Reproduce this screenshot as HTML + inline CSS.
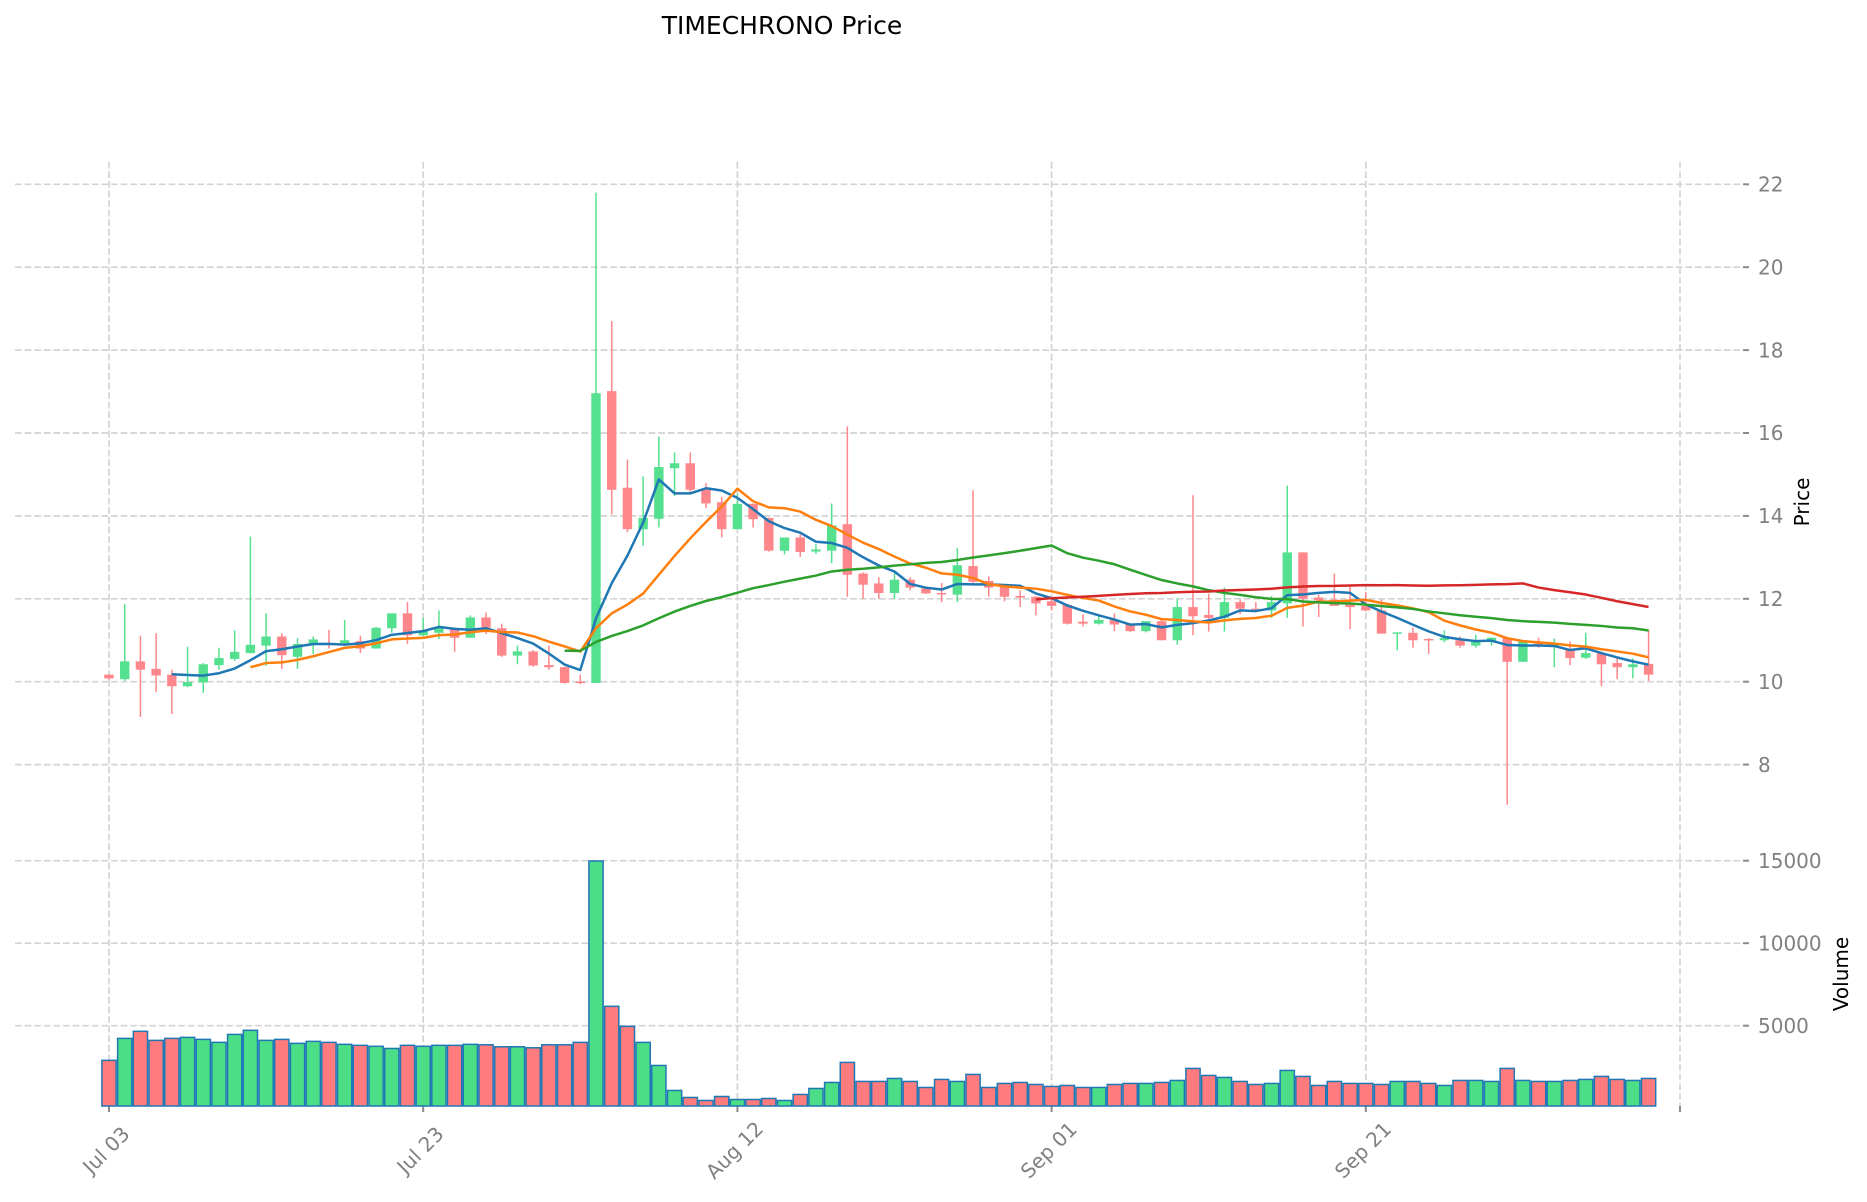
<!DOCTYPE html>
<html>
<head>
<meta charset="utf-8">
<style>
html,body{margin:0;padding:0;background:#fff;}
svg{display:block;}
text{font-family:"DejaVu Sans","Liberation Sans",sans-serif;}
</style>
</head>
<body>
<svg id="chart" width="1867" height="1202" viewBox="0 0 1867 1202" xmlns="http://www.w3.org/2000/svg">
<rect x="0" y="0" width="1867" height="1202" fill="#ffffff"/>
<g stroke="#d3d3d3" stroke-width="1.7" stroke-dasharray="6.7 2.9" fill="none">
  <line x1="15" y1="184.3" x2="1743" y2="184.3"/>
  <line x1="15" y1="267.2" x2="1743" y2="267.2"/>
  <line x1="15" y1="350.1" x2="1743" y2="350.1"/>
  <line x1="15" y1="433.0" x2="1743" y2="433.0"/>
  <line x1="15" y1="515.9" x2="1743" y2="515.9"/>
  <line x1="15" y1="598.8" x2="1743" y2="598.8"/>
  <line x1="15" y1="681.7" x2="1743" y2="681.7"/>
  <line x1="15" y1="764.6" x2="1743" y2="764.6"/>
  <line x1="15" y1="860.7" x2="1743" y2="860.7"/>
  <line x1="15" y1="943.2" x2="1743" y2="943.2"/>
  <line x1="15" y1="1025.7" x2="1743" y2="1025.7"/>
  <line x1="109" y1="161.7" x2="109" y2="1106"/>
  <line x1="423.2" y1="161.7" x2="423.2" y2="1106"/>
  <line x1="737.4" y1="161.7" x2="737.4" y2="1106"/>
  <line x1="1051.6" y1="161.7" x2="1051.6" y2="1106"/>
  <line x1="1365.8" y1="161.7" x2="1365.8" y2="1106"/>
  <line x1="1680" y1="161.7" x2="1680" y2="1106"/>
</g>
<g stroke="#8a8a8a" stroke-width="2">
  <line x1="1743" y1="184.3" x2="1749" y2="184.3"/>
  <line x1="1743" y1="267.2" x2="1749" y2="267.2"/>
  <line x1="1743" y1="350.1" x2="1749" y2="350.1"/>
  <line x1="1743" y1="433.0" x2="1749" y2="433.0"/>
  <line x1="1743" y1="515.9" x2="1749" y2="515.9"/>
  <line x1="1743" y1="598.8" x2="1749" y2="598.8"/>
  <line x1="1743" y1="681.7" x2="1749" y2="681.7"/>
  <line x1="1743" y1="764.6" x2="1749" y2="764.6"/>
  <line x1="1743" y1="860.7" x2="1749" y2="860.7"/>
  <line x1="1743" y1="943.2" x2="1749" y2="943.2"/>
  <line x1="1743" y1="1025.7" x2="1749" y2="1025.7"/>
  <line x1="109" y1="1106" x2="109" y2="1112"/>
  <line x1="423.2" y1="1106" x2="423.2" y2="1112"/>
  <line x1="737.4" y1="1106" x2="737.4" y2="1112"/>
  <line x1="1051.6" y1="1106" x2="1051.6" y2="1112"/>
  <line x1="1365.8" y1="1106" x2="1365.8" y2="1112"/>
  <line x1="1680" y1="1106" x2="1680" y2="1112"/>
</g>
<g id="plot"></g>
<g fill="#808080" font-size="20">
  <text x="1758" y="184.3" dy="0.36em">22</text>
  <text x="1758" y="267.2" dy="0.36em">20</text>
  <text x="1758" y="350.1" dy="0.36em">18</text>
  <text x="1758" y="433.0" dy="0.36em">16</text>
  <text x="1758" y="515.9" dy="0.36em">14</text>
  <text x="1758" y="598.8" dy="0.36em">12</text>
  <text x="1758" y="681.7" dy="0.36em">10</text>
  <text x="1758" y="764.6" dy="0.36em">8</text>
  <text x="1758" y="860.7" dy="0.36em">15000</text>
  <text x="1758" y="943.2" dy="0.36em">10000</text>
  <text x="1758" y="1025.7" dy="0.36em">5000</text>
  <text x="106" y="1150" dy="0.36em" text-anchor="middle" transform="rotate(-45 106 1150)">Jul 03</text>
  <text x="420.2" y="1150" dy="0.36em" text-anchor="middle" transform="rotate(-45 420.2 1150)">Jul 23</text>
  <text x="734.4" y="1150" dy="0.36em" text-anchor="middle" transform="rotate(-45 734.4 1150)">Aug 12</text>
  <text x="1048.6" y="1150" dy="0.36em" text-anchor="middle" transform="rotate(-45 1048.6 1150)">Sep 01</text>
  <text x="1362.8" y="1150" dy="0.36em" text-anchor="middle" transform="rotate(-45 1362.8 1150)">Sep 21</text>
</g>
<g fill="#000000" font-size="20">
  <text x="1802" y="502" dy="0.36em" text-anchor="middle" transform="rotate(-90 1802 502)">Price</text>
  <text x="1841" y="974" dy="0.36em" text-anchor="middle" transform="rotate(-90 1841 974)">Volume</text>
</g>
<text x="782" y="34" font-size="25" text-anchor="middle" fill="#000000">TIMECHRONO Price</text>
</svg>
<script>
(function(){
var D=[
[10.17,10.18,10.04,10.08],[10.06,11.87,10.02,10.49],[10.49,11.11,9.15,10.29],[10.31,11.17,9.75,10.15],[10.17,10.29,9.22,9.89],
[9.89,10.84,9.87,9.99],[9.98,10.45,9.73,10.42],[10.40,10.82,10.29,10.57],[10.55,11.24,10.50,10.72],[10.69,13.50,10.68,10.89],
[10.87,11.65,10.38,11.09],[11.09,11.17,10.31,10.64],[10.60,11.05,10.31,10.91],[10.93,11.09,10.67,11.02],[10.93,11.25,10.80,10.90],
[10.93,11.49,10.88,11.00],[10.98,11.11,10.69,10.80],[10.80,11.32,10.80,11.30],[11.29,11.65,11.18,11.65],[11.65,11.92,10.91,11.12],
[11.12,11.54,11.10,11.23],[11.18,11.72,11.03,11.31],[11.27,11.30,10.72,11.06],[11.06,11.60,11.06,11.55],[11.55,11.67,11.15,11.30],
[11.29,11.40,10.60,10.63],[10.63,10.87,10.42,10.73],[10.73,10.76,10.36,10.39],[10.40,10.87,10.29,10.35],[10.35,10.36,9.95,9.97],
[10.00,10.17,9.94,9.97],[9.97,21.80,9.97,16.96],[17.01,18.70,14.04,14.63],[14.68,15.36,13.61,13.68],[13.68,14.95,13.28,13.95],
[13.93,15.91,13.72,15.18],[15.15,15.53,14.48,15.27],[15.27,15.53,14.57,14.63],[14.63,14.79,14.19,14.30],[14.33,14.46,13.48,13.68],
[13.68,14.53,13.68,14.29],[14.29,14.30,13.72,13.92],[13.95,13.96,13.14,13.16],[13.16,13.48,13.07,13.48],[13.48,13.55,13.01,13.13],
[13.14,13.32,13.08,13.19],[13.16,14.30,12.86,13.77],[13.80,16.16,12.05,12.58],[12.61,12.64,12.00,12.34],[12.37,12.52,12.00,12.14],
[12.14,12.63,12.00,12.46],[12.46,12.52,12.20,12.27],[12.25,12.27,12.12,12.13],[12.14,12.38,11.92,12.12],[12.10,13.23,11.92,12.81],
[12.79,14.62,12.38,12.41],[12.43,12.54,12.05,12.27],[12.30,12.31,11.94,12.05],[12.07,12.20,11.80,12.03],[12.05,12.06,11.60,11.89],
[11.94,12.05,11.72,11.83],[11.85,11.86,11.38,11.40],[11.45,11.63,11.33,11.40],[11.40,11.60,11.38,11.49],[11.49,11.65,11.22,11.38],
[11.38,11.41,11.20,11.22],[11.22,11.46,11.19,11.46],[11.46,11.53,11.00,11.00],[11.00,12.01,10.89,11.80],[11.80,14.50,11.12,11.58],
[11.61,12.12,11.21,11.54],[11.54,12.27,11.21,11.92],[11.92,11.98,11.63,11.76],[11.76,11.92,11.70,11.72],[11.72,12.07,11.54,11.92],
[11.89,14.73,11.54,13.12],[13.12,13.12,11.33,12.00],[12.03,12.10,11.56,11.96],[11.98,12.61,11.83,11.83],[11.87,12.30,11.27,11.80],
[11.83,12.16,11.70,11.72],[11.72,11.98,11.16,11.16],[11.16,11.19,10.76,11.19],[11.18,11.31,10.82,11.00],[11.03,11.05,10.67,11.00],
[11.00,11.24,10.95,11.06],[11.00,11.09,10.82,10.87],[10.87,11.13,10.82,10.96],[10.96,11.06,10.87,11.06],[11.05,11.06,7.03,10.48],
[10.48,11.00,10.48,11.00],[10.92,11.06,10.82,10.87],[10.85,11.04,10.35,10.90],[10.78,10.97,10.40,10.57],[10.58,11.18,10.55,10.69],
[10.69,10.70,9.89,10.42],[10.45,10.56,10.06,10.35],[10.35,10.56,10.08,10.42],[10.43,11.25,10.02,10.17]
];
var V=[2900,4230,4660,4110,4230,4290,4170,3990,4470,4720,4110,4170,3930,4050,3990,3870,3810,3750,3620,3810,
3750,3810,3810,3870,3843,3722,3722,3661,3843,3843,3988,14980,6174,4960,3988,2590,1075,650,467,710,
528,528,589,467,832,1196,1560,2775,1621,1621,1803,1621,1257,1743,1621,2046,1257,1500,1560,1439,
1318,1378,1257,1257,1439,1500,1500,1560,1682,2410,1985,1864,1621,1439,1500,2289,1925,1378,1621,1500,
1500,1439,1621,1621,1500,1378,1682,1682,1621,2410,1682,1621,1621,1682,1743,1925,1743,1682,1803];
function X(i){return 109+i*15.71;}
function Y(p){return 184.3+(22-p)*41.45;}
function VY(v){return 1108.2-v*0.0165;}
var s='';
var i;
for(i=0;i<V.length;i++){
  var up=D[i][3]>=D[i][0];
  var vy=VY(V[i]);
  s+='<rect x="'+(X(i)-7.1).toFixed(2)+'" y="'+vy.toFixed(2)+'" width="14.2" height="'+(1106-vy).toFixed(2)+'" fill="'+(up?'#4cde87':'#ff7b7e')+'" stroke="#1f77b4" stroke-width="1.5"/>';
}
for(i=0;i<D.length;i++){
  var d=D[i], up2=d[3]>=d[0], col=up2?'#55e090':'#ff868b';
  var x=X(i);
  s+='<line x1="'+x.toFixed(2)+'" y1="'+Y(d[1]).toFixed(2)+'" x2="'+x.toFixed(2)+'" y2="'+Y(d[2]).toFixed(2)+'" stroke="'+col+'" stroke-width="1.5"/>';
  var yt=Y(Math.max(d[0],d[3])), yb=Y(Math.min(d[0],d[3]));
  var h=Math.max(1.4,yb-yt);
  s+='<rect x="'+(x-4.7).toFixed(2)+'" y="'+yt.toFixed(2)+'" width="9.4" height="'+h.toFixed(2)+'" fill="'+col+'"/>';
}
var mas=[[5,'#1f77b4'],[10,'#ff7f0e'],[30,'#2ca02c'],[60,'#d62728']];
mas.forEach(function(m){
  var n=m[0],pts=[];
  for(var k=n-1;k<D.length;k++){
    var sum=0;for(var j=k-n+1;j<=k;j++)sum+=D[j][3];
    pts.push(X(k).toFixed(2)+','+Y(sum/n).toFixed(2));
  }
  s+='<polyline points="'+pts.join(' ')+'" fill="none" stroke="'+m[1]+'" stroke-width="2.5" stroke-linejoin="round" stroke-linecap="butt"/>';
});
document.getElementById('plot').innerHTML=s;
})();
</script>
</body>
</html>
